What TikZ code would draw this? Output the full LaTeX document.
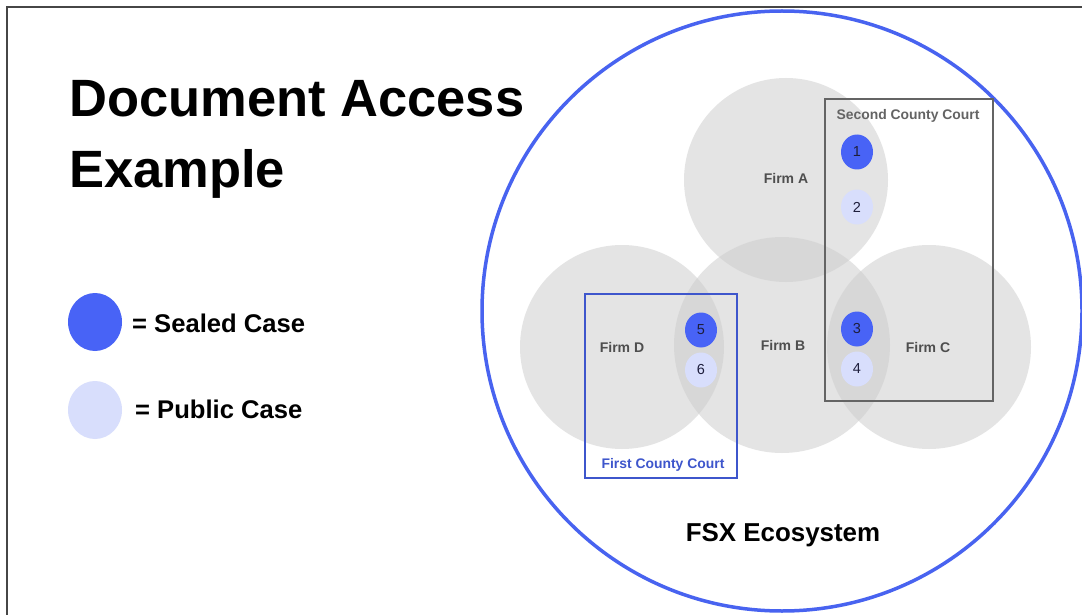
\documentclass[tikz,border=0pt]{standalone}
\usepackage{fontspec}
\setmainfont{Liberation Sans}
\usetikzlibrary{shapes.geometric}
\definecolor{sealed}{RGB}{72,99,246}
\definecolor{public}{RGB}{216,222,252}
\definecolor{ring}{RGB}{72,99,240}
\definecolor{firstc}{RGB}{62,86,204}
\definecolor{secondc}{RGB}{100,100,100}
\definecolor{labelgray}{RGB}{78,78,78}
\definecolor{numcol}{RGB}{30,30,60}
\definecolor{firmgray}{RGB}{206,206,206}
\definecolor{framecol}{RGB}{70,70,70}
\begin{document}
\begin{tikzpicture}[x=1pt,y=-1pt,
  firm/.style={circle, minimum size=#1, inner sep=0pt, fill=firmgray, fill opacity=0.55, draw=none},
  sealedcase/.style={ellipse, minimum width=32pt, minimum height=35pt, inner sep=0pt, fill=sealed, text=numcol, font=\fontsize{14.5}{16}\selectfont},
  publiccase/.style={ellipse, minimum width=32pt, minimum height=35pt, inner sep=0pt, fill=public, text=numcol, font=\fontsize{14.5}{16}\selectfont},
  firmlabel/.style={inner sep=0pt, text=labelgray, font=\fontsize{14}{16}\selectfont\bfseries},
  courtlabel/.style={inner sep=0pt, anchor=base, font=\fontsize{13.9}{16}\selectfont\bfseries},
  legendtext/.style={inner sep=0pt, anchor=base west, font=\fontsize{25.6}{30}\selectfont\bfseries},
  titletext/.style={inner sep=0pt, anchor=base west, font=\fontsize{52.5}{60}\selectfont\bfseries}
]
\useasboundingbox (0,0) rectangle (1082,615);
\fill[white] (0,0) rectangle (1082,615);
\draw[framecol, line width=1.5pt] (7,620) -- (7,7) -- (1090,7);

% title
\node[titletext] (t1) at (69,117) {Document Access};
\node[titletext] (t2) at (69,187) {Example};

% legend
\node[ellipse, minimum width=54pt, minimum height=58pt, inner sep=0pt, fill=sealed] (ls) at (95,322) {};
\node[legendtext] (lst) at (132,332) {= Sealed Case};
\node[ellipse, minimum width=54pt, minimum height=58pt, inner sep=0pt, fill=public] (lp) at (95,410) {};
\node[legendtext] (lpt) at (135,418) {= Public Case};

% ecosystem ring
\node[circle, draw=ring, line width=3.5pt, minimum size=600pt, inner sep=0pt] (eco) at (782,311) {};
\node[inner sep=0pt, anchor=base, font=\fontsize{25.9}{30}\selectfont\bfseries] (ecot) at (783,541) {FSX Ecosystem};

% firms
\node[firm=204pt] (fa) at (786,180) {};
\node[firm=216pt] (fb) at (782,345) {};
\node[firm=204pt] (fc) at (929,347) {};
\node[firm=204pt] (fd) at (622,347) {};

\node[firmlabel] (fal) at (786,178) {Firm A};
\node[firmlabel] (fbl) at (783,345) {Firm B};
\node[firmlabel] (fcl) at (928,347) {Firm C};
\node[firmlabel] (fdl) at (622,347) {Firm D};

% courts
\draw[secondc, line width=2pt] (825,99) rectangle (993,401);
\node[courtlabel, text=secondc] (scl) at (908,120) {Second County Court};
\draw[firstc, line width=2pt] (585,294) rectangle (737,478);
\node[courtlabel, text=firstc] (fcl2) at (663,468) {First County Court};

% cases
\node[sealedcase] (c1) at (857,152) {1};
\node[publiccase] (c2) at (857,207) {2};
\node[sealedcase] (c3) at (857,329) {3};
\node[publiccase] (c4) at (857,369) {4};
\node[sealedcase] (c5) at (701,330) {5};
\node[publiccase] (c6) at (701,370) {6};
\end{tikzpicture}
\end{document}
